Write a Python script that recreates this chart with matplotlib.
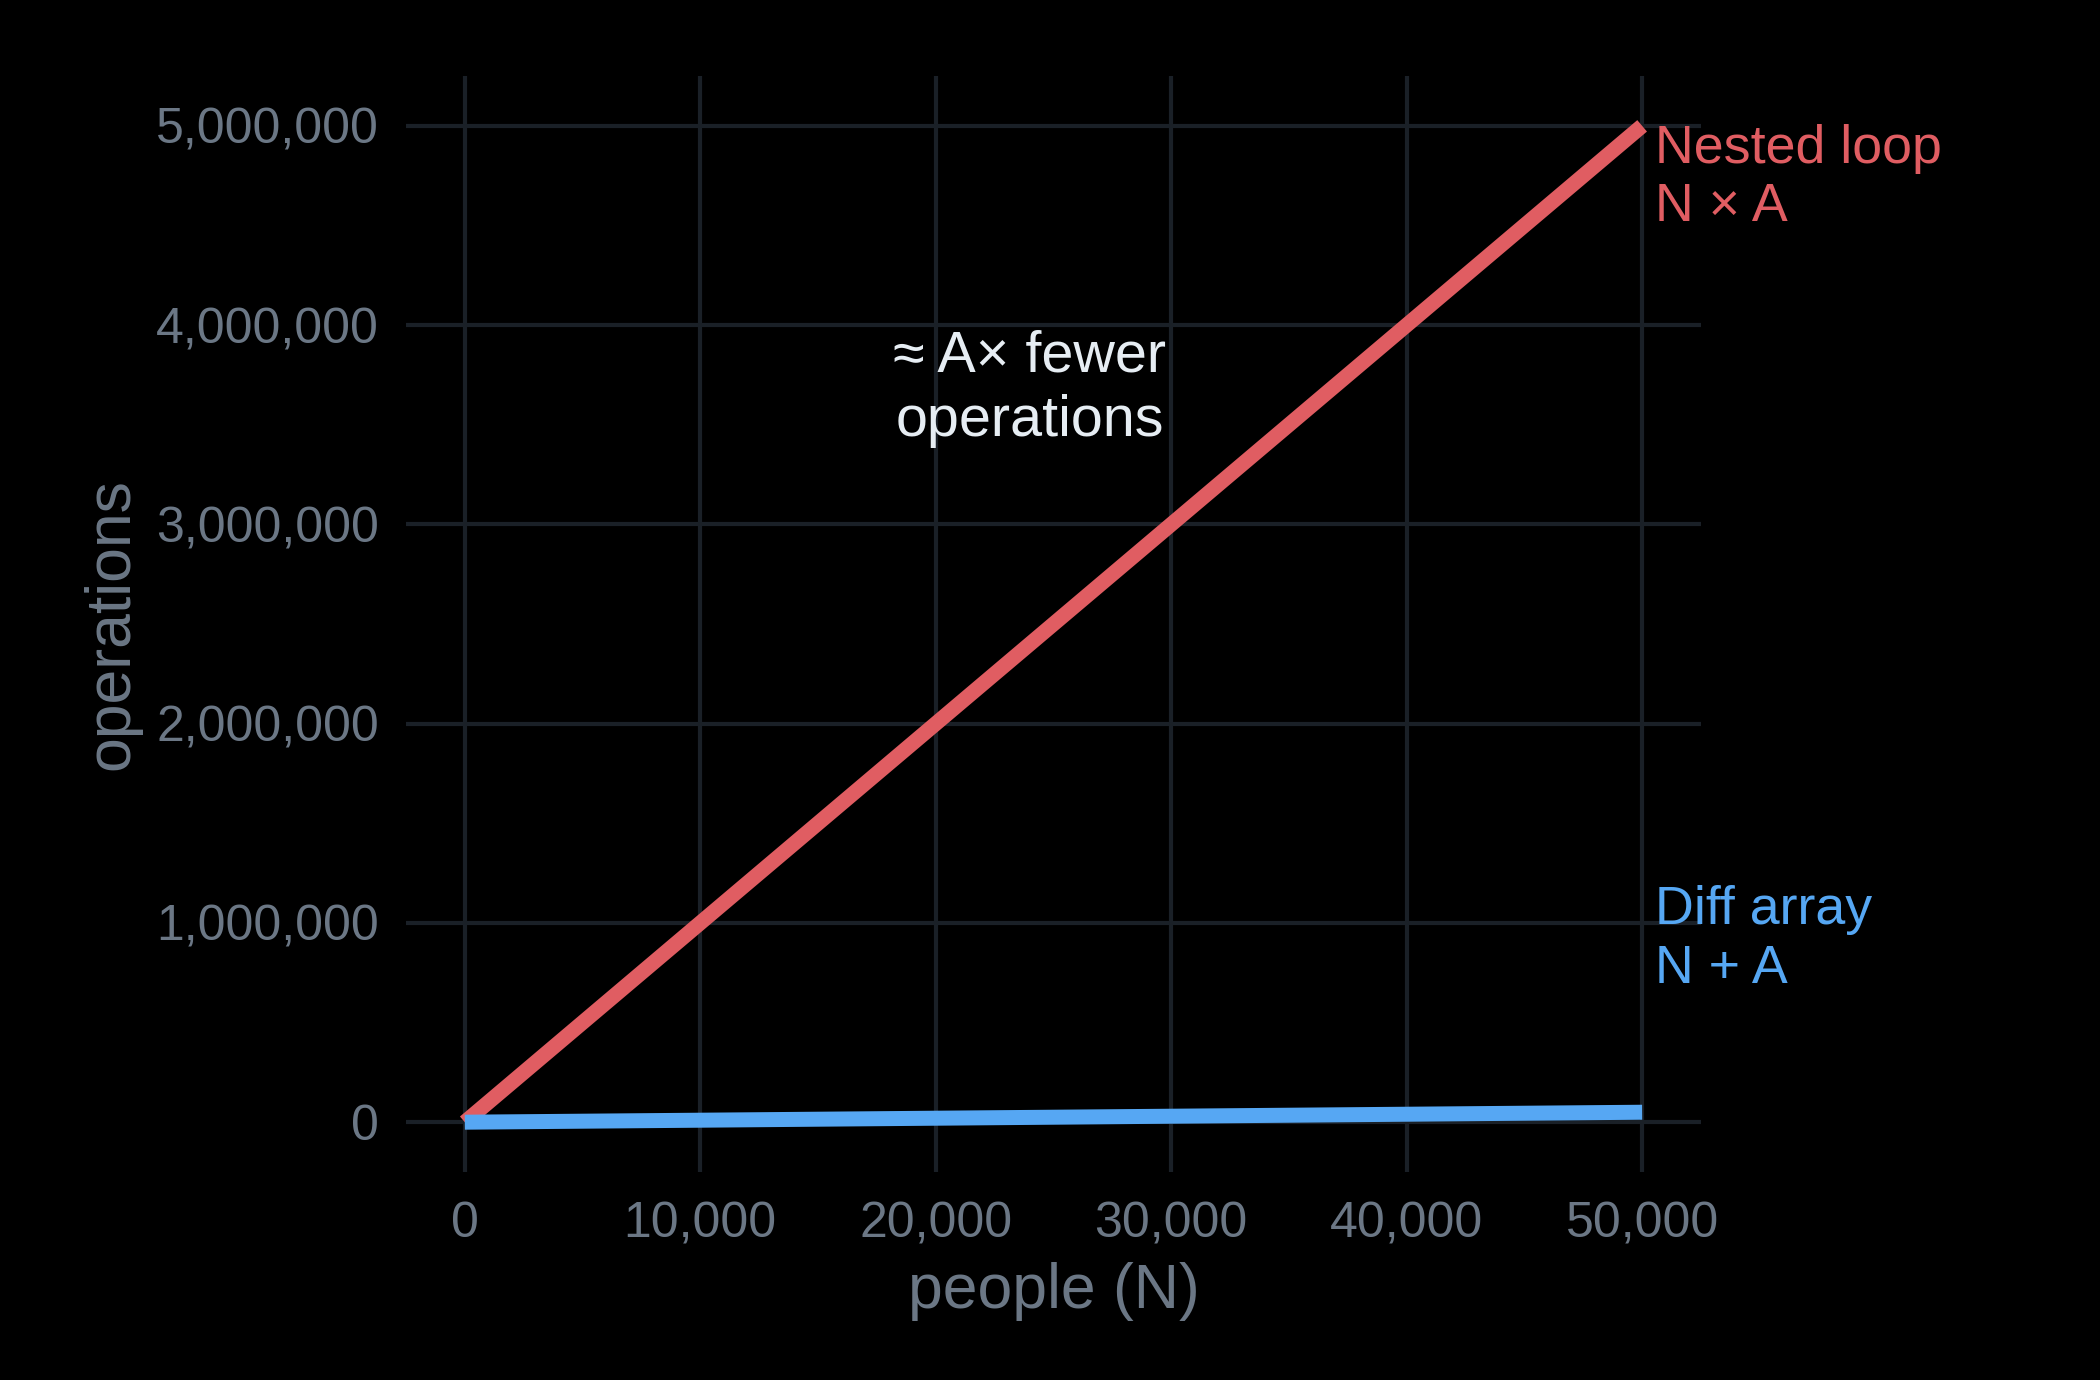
import matplotlib
matplotlib.use("Agg")
import matplotlib.pyplot as plt
from matplotlib.ticker import FuncFormatter

# data
A = 100
people = [0, 10000, 20000, 30000, 40000, 50000]
nested_ops = [0, 1000000, 2000000, 3000000, 4000000, 5000000]
diff_ops = [100, 10100, 20100, 30100, 40100, 50100]
x_ticks = [0, 10000, 20000, 30000, 40000, 50000]
y_ticks = [0, 1000000, 2000000, 3000000, 4000000, 5000000]

BG = "#000000"
GRID = "#1a2027"
TICK = "#6b7785"
RED = "#e05d62"
BLUE = "#56a7f3"
NOTE = "#e6edf3"

plt.rcParams['font.family'] = ['Liberation Sans', 'DejaVu Sans']

fig = plt.figure(figsize=(7, 4.6), dpi=300, facecolor=BG)
ax = fig.add_axes([0.1933, 0.1507, 0.6167, 0.7942])
ax.set_facecolor(BG)

ax.plot(people, nested_ops, color=RED, linewidth=3.6, solid_capstyle='butt', zorder=3)
ax.plot(people, diff_ops, color=BLUE, linewidth=3.6, solid_capstyle='butt', zorder=3)

ax.set_xlim(-2500, 52500)
ax.set_ylim(-250000, 5250000)
ax.set_xticks(x_ticks)
ax.set_yticks(y_ticks)
fmt = FuncFormatter(lambda v, p: f"{int(v):,}")
ax.xaxis.set_major_formatter(fmt)
ax.yaxis.set_major_formatter(fmt)
ax.tick_params(length=0, colors=TICK, labelsize=12.0)
ax.tick_params(axis='x', pad=7)
ax.tick_params(axis='y', pad=6.5)
ax.grid(True, color=GRID, linewidth=1.0, zorder=0)
for s in ax.spines.values():
    s.set_visible(False)

ax.set_xlabel("people (N)", color=TICK, fontsize=15, labelpad=3.5)
ax.set_ylabel("operations", color=TICK, fontsize=15, labelpad=3.5)

ax.annotate("Nested loop\nN × A", xy=(50000, 5010000), xytext=(3, 0),
            textcoords='offset points', color=RED, fontsize=12.9,
            ha='left', va='top', linespacing=1.22, annotation_clip=False)
ax.annotate("Diff array\nN + A", xy=(50000, 1190000), xytext=(3, 0),
            textcoords='offset points', color=BLUE, fontsize=12.9,
            ha='left', va='top', linespacing=1.22, annotation_clip=False)
ax.text(24000, 3680000, "≈ A× fewer\noperations", color=NOTE, fontsize=13.8,
        ha='center', va='center', multialignment='center', linespacing=1.25)

fig.savefig("out.png", dpi=300, facecolor=BG)
